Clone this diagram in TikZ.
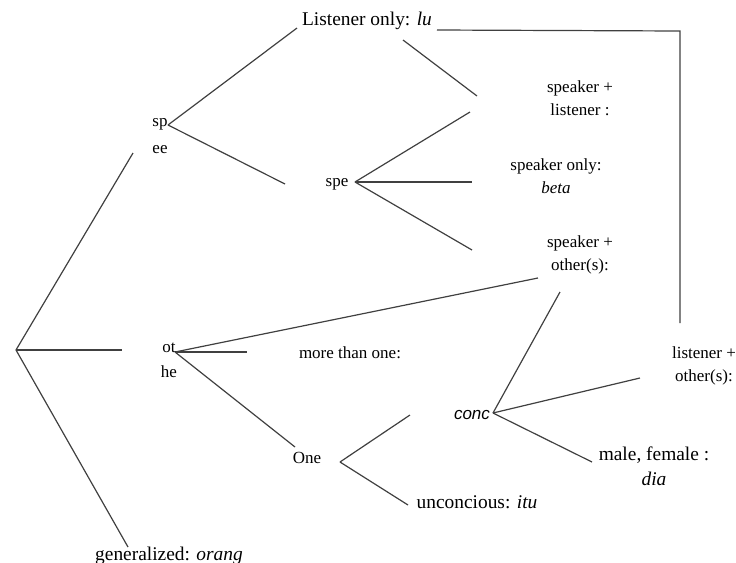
\documentclass[tikz,border=0pt]{standalone}
\usepackage{fontspec}
\setmainfont{Liberation Serif}
\newfontfamily\concfont{Liberation Sans}
\begin{document}
\begin{tikzpicture}[x=0.5pt, y=-0.5pt, line width=0.6pt,
    branch/.style={draw=black!75},
    big/.style={font=\fontsize{9.7}{12.5}\selectfont, inner sep=0pt},
    small/.style={font=\fontsize{8.5}{11.5}\selectfont, inner sep=0pt, align=center}]
  \useasboundingbox (0,0) rectangle (736,563);
  % branch points
  \coordinate (root) at (16,350); \coordinate (sp) at (168,125);
  \coordinate (spe) at (355,182); \coordinate (ot) at (175,352);
  \coordinate (one) at (340,462); \coordinate (conc) at (493,413);
  % free ends
  \coordinate (r1) at (133,153); \coordinate (r2) at (122,350); \coordinate (r3) at (128,547);
  \coordinate (s1) at (297,28); \coordinate (s2) at (285,184);
  \coordinate (l1) at (403,40); \coordinate (l2) at (477,96);
  \coordinate (u1) at (437,30); \coordinate (u2) at (680,31); \coordinate (u3) at (680,323);
  \coordinate (e1) at (470,112); \coordinate (e2) at (472,182); \coordinate (e3) at (472,250);
  \coordinate (o1) at (538,278); \coordinate (o2) at (247,352); \coordinate (o3) at (295,447);
  \coordinate (n1) at (410,415); \coordinate (n2) at (408,505);
  \coordinate (c1) at (560,292); \coordinate (c2) at (640,378); \coordinate (c3) at (592,462);
  % lines
  \draw[branch] (root) -- (r1); \draw[branch] (root) -- (r2); \draw[branch] (root) -- (r3);
  \draw[branch] (sp) -- (s1); \draw[branch] (sp) -- (s2);
  \draw[branch] (l1) -- (l2);
  \draw[branch] (u1) -- (u2) -- (u3);
  \draw[branch] (spe) -- (e1); \draw[branch] (spe) -- (e2); \draw[branch] (spe) -- (e3);
  \draw[branch] (ot) -- (o1); \draw[branch] (ot) -- (o2); \draw[branch] (ot) -- (o3);
  \draw[branch] (one) -- (n1); \draw[branch] (one) -- (n2);
  \draw[branch] (conc) -- (c1); \draw[branch] (conc) -- (c2); \draw[branch] (conc) -- (c3);
  % labels
  \node[big] (lu) at (367,21) {Listener only: \textit{lu}};
  \node[small] (spl) at (580,98) {speaker +\\listener :};
  \node[small] (spo) at (556,176) {speaker only:\\\textit{beta}};
  \node[small] (spx) at (580,255) {speaker +\\other(s):};
  \node[small] (lox) at (704,366) {listener +\\other(s):};
  \node[small] (more) at (350,353) {more than one:};
  \node[small, font=\concfont\itshape\fontsize{8.5}{10}\selectfont] (conctext) at (472,415) {conc};
  \node[big, align=center] (mf) at (654,466) {male, female :\\\textit{dia}};
  \node[big] (unc) at (477,502) {unconcious: \textit{itu}};
  \node[big] (gen) at (169,556) {generalized: \textit{orang}};
  \node[small] (sptext) at (160,124) {sp};
  \node[small] (eetext) at (160,150) {ee};
  \node[small] (spetext) at (337,184) {spe};
  \node[small] (ottext) at (169,348) {ot};
  \node[small] (hetext) at (169,372) {he};
  \node[small] (onetext) at (307,458) {One};
\end{tikzpicture}
\end{document}
